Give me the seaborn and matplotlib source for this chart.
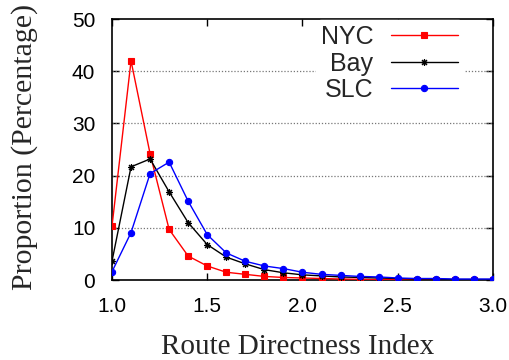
import matplotlib
matplotlib.use("Agg")
import matplotlib.pyplot as plt
import seaborn as sns
import pandas as pd
import numpy as np

x_vals = [1.0, 1.1, 1.2, 1.3, 1.4, 1.5, 1.6, 1.7, 1.8, 1.9, 2.0,
          2.1, 2.2, 2.3, 2.4, 2.5, 2.6, 2.7, 2.8, 2.9, 3.0]
nyc = [10.3, 42.0, 24.2, 9.7, 4.6, 2.7, 1.5, 1.1, 0.7, 0.5, 0.4,
       0.3, 0.2, 0.15, 0.1, 0.1, 0.05, 0.05, 0.05, 0.05, 0.05]
bay = [3.6, 21.7, 23.2, 16.9, 11.0, 6.8, 4.4, 3.1, 2.0, 1.4, 1.0,
       0.8, 0.6, 0.5, 0.4, 0.3, 0.2, 0.2, 0.1, 0.1, 0.1]
slc = [1.6, 9.1, 20.4, 22.6, 15.1, 8.7, 5.2, 3.6, 2.7, 2.2, 1.5,
       1.1, 0.9, 0.7, 0.6, 0.4, 0.3, 0.3, 0.2, 0.2, 0.2]
series_names = ["NYC", "Bay", "SLC"]
x_ticks = [1.0, 1.5, 2.0, 2.5, 3.0]
y_ticks = [0, 10, 20, 30, 40, 50]

df = pd.concat([
    pd.DataFrame({"x": x_vals, "y": nyc, "city": "NYC"}),
    pd.DataFrame({"x": x_vals, "y": bay, "city": "Bay"}),
    pd.DataFrame({"x": x_vals, "y": slc, "city": "SLC"}),
])

sns.set_theme(style="white")
plt.rcParams["font.family"] = ["Liberation Sans", "DejaVu Sans"]

fig = plt.figure(figsize=(5.09, 3.6), dpi=100)
ax = fig.add_axes([0.22, 0.222, 0.7486, 0.725])

colors = {"NYC": "#ff0000", "Bay": "#000000", "SLC": "#0000ff"}
markers = {"NYC": "s", "Bay": (8, 2, 0), "SLC": "o"}
msizes = {"NYC": 5, "Bay": 5, "SLC": 4.5}

for name in series_names:
    sub = df[df["city"] == name]
    sns.lineplot(data=sub, x="x", y="y", ax=ax, color=colors[name],
                 marker=markers[name], markersize=msizes[name],
                 markeredgecolor=colors[name], markeredgewidth=0.8,
                 linewidth=1.0, label=name, zorder=3)

ax.set_xlim(1.0, 3.0)
ax.set_ylim(0, 50)
ax.set_xticks(x_ticks)
ax.set_xticklabels([f"{t:.1f}" for t in x_ticks])
ax.set_yticks(y_ticks)
ax.set_yticklabels([str(t) for t in y_ticks])

for sp in ax.spines.values():
    sp.set_visible(True)
    sp.set_color("black")
    sp.set_linewidth(1.2)

ax.tick_params(axis="both", which="major", direction="in", length=5, width=1,
               top=True, right=True, bottom=True, left=True,
               labelsize=15, pad=12, colors="black")

for yv in y_ticks[1:-1]:
    ax.axhline(yv, color="#777777", linestyle=(0, (1, 1.5)), linewidth=0.9, zorder=1)

ax.set_xlabel("Route Directness Index", fontsize=21,
              family=["Liberation Serif", "DejaVu Serif"])
ax.set_ylabel("Proportion (Percentage)", fontsize=21.5,
              family=["Liberation Serif", "DejaVu Serif"])
ax.xaxis.set_label_coords(0.487, -0.205)
ax.yaxis.set_label_coords(-0.195, 0.51)

leg = ax.legend(loc="upper right", bbox_to_anchor=(0.935, 1.015), markerfirst=False,
                frameon=True, fontsize=18, handlelength=2.7, handletextpad=0.7,
                labelspacing=0.1, borderpad=0.2, borderaxespad=0.2)
leg.get_frame().set_edgecolor("white")
leg.get_frame().set_facecolor("white")
leg.get_frame().set_alpha(1.0)
leg.set_zorder(5)
try:
    leg._legend_box._children[-1]._children[0].align = "right"
except Exception:
    pass

fig.savefig("out.png", dpi=100)
